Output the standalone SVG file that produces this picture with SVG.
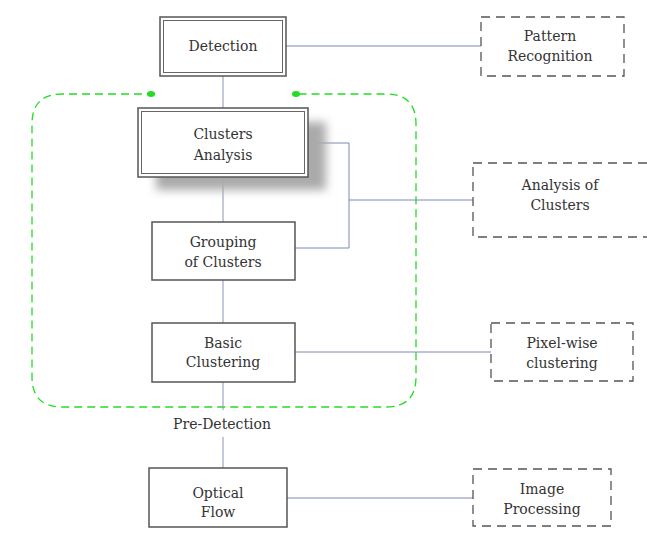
<svg xmlns="http://www.w3.org/2000/svg" width="647" height="540" viewBox="0 0 647 540">
<defs>
<filter id="blur" x="-20%" y="-30%" width="140%" height="160%"><feGaussianBlur stdDeviation="5"/></filter>
</defs>
<style>
.box{fill:#fff;stroke:#555;stroke-width:1.5}
.inner{fill:none;stroke:#666;stroke-width:1}
.dash{fill:#fff;stroke:#555;stroke-width:1.3;stroke-dasharray:9,6}
.conn{fill:none;stroke:#7a88b8;stroke-width:1}
.vconn{fill:none;stroke:#8a94b4;stroke-width:1}
.t{font-family:"DejaVu Serif","Liberation Serif",serif;font-size:14px;fill:#333;text-anchor:middle}
.green{fill:none;stroke:#22dd22;stroke-width:1.3;stroke-dasharray:8,5}
</style>
<rect width="647" height="540" fill="#fff"/>
<g id="group-frame">
<path class="green" d="M155,94 H62 Q32,94 32,124 V377 Q32,407 62,407 H386 Q416,407 416,377 V124 Q416,94 386,94 H293"/>
<ellipse cx="151" cy="94" rx="4" ry="3" fill="#22dd22"/>
<ellipse cx="296" cy="94" rx="4" ry="3" fill="#22dd22"/>
</g>
<g id="connectors">
<line class="vconn" x1="223" y1="76" x2="223" y2="108"/>
<line class="conn" x1="286" y1="46" x2="481" y2="46"/>
<line class="vconn" x1="223" y1="177" x2="223" y2="222"/>
<polyline class="conn" points="308,143 349,143 349,248 295,248"/>
<line class="conn" x1="349" y1="200" x2="473" y2="200"/>
<line class="vconn" x1="223" y1="280" x2="223" y2="323"/>
<line class="conn" x1="295" y1="352" x2="491" y2="352"/>
<line class="vconn" x1="223" y1="382" x2="223" y2="410"/>
<line class="vconn" x1="223" y1="437" x2="223" y2="468"/>
<line class="conn" x1="287" y1="498" x2="473" y2="498"/>
</g>
<g id="detection">
<rect class="box" x="160" y="17" width="126" height="59"/>
<rect class="inner" x="163.5" y="20.5" width="119" height="52"/>
<text class="t" x="223" y="51">Detection</text>
</g>
<g id="pattern-recognition">
<rect class="dash" x="481" y="17" width="143" height="59"/>
<text class="t" x="550" y="41">Pattern</text>
<text class="t" x="550" y="61">Recognition</text>
</g>
<g id="clusters-analysis">
<rect x="156" y="122" width="170" height="68" fill="#aaa" filter="url(#blur)"/>
<rect class="box" x="138" y="108" width="170" height="69"/>
<rect class="inner" x="141.5" y="111.5" width="163" height="62"/>
<text class="t" x="223" y="139">Clusters</text>
<text class="t" x="223" y="160">Analysis</text>
</g>
<g id="analysis-of-clusters">
<rect class="dash" x="473" y="163" width="180" height="74"/>
<text class="t" x="560" y="190">Analysis of</text>
<text class="t" x="560" y="210">Clusters</text>
</g>
<g id="grouping">
<rect class="box" x="152" y="222" width="143" height="58"/>
<text class="t" x="223" y="247">Grouping</text>
<text class="t" x="223" y="267">of Clusters</text>
</g>
<g id="basic-clustering">
<rect class="box" x="152" y="323" width="143" height="59"/>
<text class="t" x="223" y="348">Basic</text>
<text class="t" x="223" y="367">Clustering</text>
</g>
<g id="pixel-wise">
<rect class="dash" x="491" y="323" width="142" height="58"/>
<text class="t" x="562" y="348">Pixel-wise</text>
<text class="t" x="562" y="368">clustering</text>
</g>
<g id="pre-detection">
<text class="t" x="222" y="429">Pre-Detection</text>
</g>
<g id="optical-flow">
<rect class="box" x="149" y="468" width="138" height="59"/>
<text class="t" x="218" y="498">Optical</text>
<text class="t" x="218" y="517">Flow</text>
</g>
<g id="image-processing">
<rect class="dash" x="473" y="469" width="138" height="57"/>
<text class="t" x="542" y="494">Image</text>
<text class="t" x="542" y="514">Processing</text>
</g>
</svg>
